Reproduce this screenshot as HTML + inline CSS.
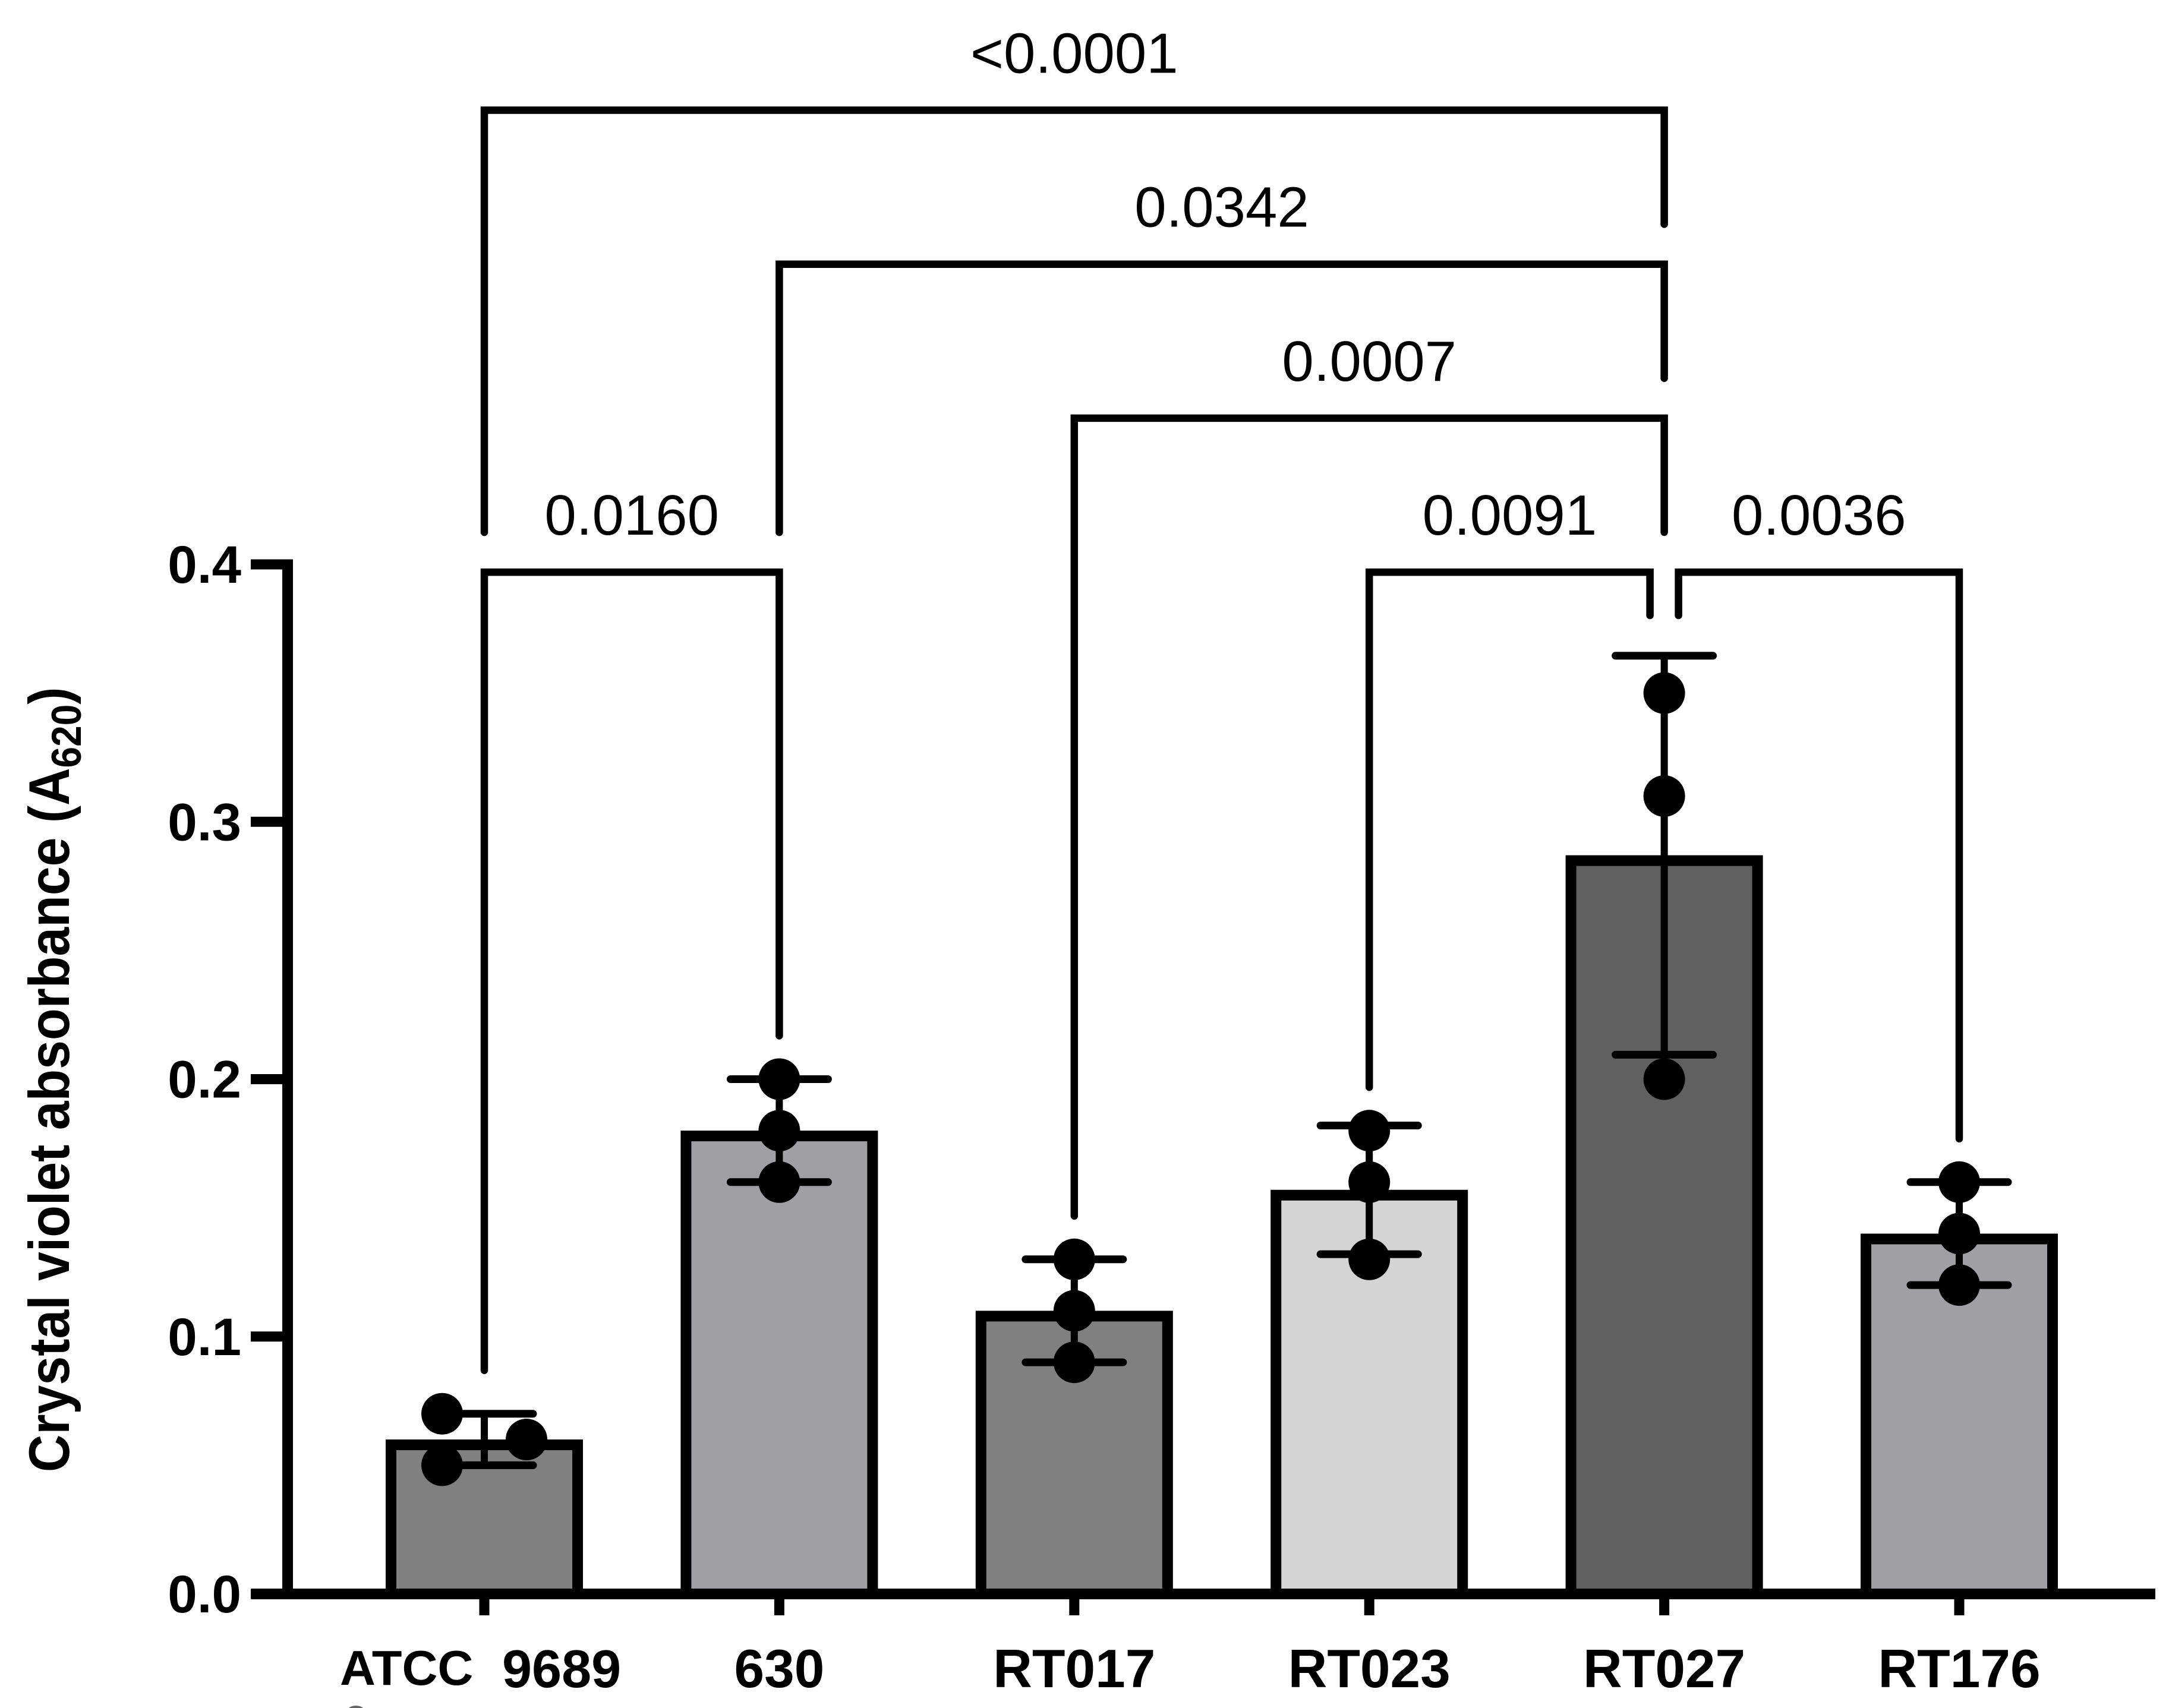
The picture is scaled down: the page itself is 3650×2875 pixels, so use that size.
<!DOCTYPE html>
<html lang="en">
<head>
<meta charset="utf-8">
<title>Crystal violet absorbance by strain</title>
<style>
  html, body { margin: 0; padding: 0; background: #fefefe; }
  svg { display: block; }
  text { font-family: "Liberation Sans", Arial, sans-serif; fill: #000; }
</style>
</head>
<body>
<svg id="chart" xmlns="http://www.w3.org/2000/svg" width="3650" height="2875" viewBox="0 0 3650 2875">
  <rect x="0" y="0" width="3650" height="2875" fill="#fefefe"></rect>
  <text transform="translate(116,2478) rotate(-90) scale(1,1.1)" font-size="87.8" font-weight="700">Crystal violet absorbance (A<tspan font-size="64" dy="18">620</tspan><tspan dy="-18">)</tspan></text>
  <ellipse cx="599" cy="2881" rx="15" ry="10" fill="#666"></ellipse>
</svg>
<script>
const categories = ['ATCC 9689', '630', 'RT017', 'RT023', 'RT027', 'RT176'];
const means = [0.06, 0.18, 0.11, 0.157, 0.287, 0.14];
const sds = [0.01, 0.02, 0.02, 0.025, 0.0775, 0.02];
const replicates = [
  [0.07, 0.06, 0.05],
  [0.20, 0.18, 0.16],
  [0.13, 0.11, 0.09],
  [0.18, 0.16, 0.13],
  [0.35, 0.31, 0.20],
  [0.16, 0.14, 0.12]
];
const barColors = ['#808080', '#a0a0a4', '#808080', '#d4d4d4', '#606060', '#a0a0a4'];
const yTicks = [0, 0.1, 0.2, 0.3, 0.4];
const yTickLabels = ['0.0', '0.1', '0.2', '0.3', '0.4'];
const comparisonFrom = [0, 1, 2, 3, 5, 0];
const comparisonTo = [4, 4, 4, 4, 4, 1];
const comparisonTier = [0, 1, 2, 3, 3, 3];
const comparisonLabels = ['<0.0001', '0.0342', '0.0007', '0.0091', '0.0036', '0.0160'];

const svg = document.getElementById('chart');
const NS = 'http://www.w3.org/2000/svg';

function yScale(v) { return 2683 - 4332.5 * v; }
function xScale(i) { return 815 + 496.4 * i; }
function tierY(t) { return 185.5 + 259.2 * t; }

function make(tag, attrs, parent) {
  const el = document.createElementNS(NS, tag);
  for (const k in attrs) el.setAttribute(k, attrs[k]);
  (parent || svg).appendChild(el);
  return el;
}

const barHalf = 166;
const barStroke = 18;
const baseY = 2683;

// bars
categories.forEach(function (cat, i) {
  const top = yScale(means[i]);
  const bar = make('path', {
    d: 'M' + (xScale(i) - barHalf + barStroke / 2) + ' ' + baseY +
       'V' + (top + barStroke / 2) +
       'H' + (xScale(i) + barHalf - barStroke / 2) +
       'V' + baseY,
    fill: barColors[i],
    stroke: '#000',
    'stroke-width': barStroke
  });
  
  
});

// error bars
categories.forEach(function (cat, i) {
  const hi = yScale(means[i] + sds[i]);
  const lo = yScale(means[i] - sds[i]);
  const cx = xScale(i);
  const g = make('g', { stroke: '#000', fill: 'none' });
  
  
  make('line', { x1: cx, x2: cx, y1: hi, y2: lo, 'stroke-width': 12 }, g);
  make('line', { x1: cx - 82, x2: cx + 82, y1: hi, y2: hi, 'stroke-width': 13, 'stroke-linecap': 'round' }, g);
  make('line', { x1: cx - 82, x2: cx + 82, y1: lo, y2: lo, 'stroke-width': 13, 'stroke-linecap': 'round' }, g);
});

// replicate points: overlapping points are swarmed sideways
const dotR = 35;
const dotSwarm = 71;
replicates.forEach(function (vals, i) {
  const crowded = vals.some(function (v, j) {
    return j > 0 && Math.abs(yScale(v) - yScale(vals[j - 1])) < 2 * dotR;
  });
  vals.forEach(function (v, j) {
    const offset = crowded ? (j % 2 === 0 ? -dotSwarm : dotSwarm) : 0;
    const dot = make('circle', { cx: xScale(i) + offset, cy: yScale(v), r: dotR, fill: '#000' });
    
    
  });
});

// axes
const yAxis = make('rect', { x: 475, y: 941.5, width: 18, height: 2692 - 941.5, fill: '#000' });


const xAxis = make('rect', { x: 423, y: 2674, width: 3627 - 423, height: 18, fill: '#000' });



yTicks.forEach(function (t, i) {
  const y = yScale(t);
  const tick = make('rect', { x: 422, y: y - 8.5, width: 60, height: 17, fill: '#000' });
  
  
  const lab = make('text', { x: 406, y: y + 31, 'text-anchor': 'end', 'font-size': 89, 'font-weight': 700 });
  lab.textContent = yTickLabels[i];
  
  
});

categories.forEach(function (cat, i) {
  const cx = xScale(i);
  const tick = make('rect', { x: cx - 8.5, y: 2685, width: 17, height: 34, fill: '#000' });
  
  
  const words = cat.split(' ');
  if (words.length === 2) {
    const first = make('text', { x: 572, y: 2836, 'font-size': 83, 'font-weight': 700 });
    first.textContent = words[0];
    
    
    const second = make('text', { x: 845, y: 2840, 'font-size': 90, 'font-weight': 700 });
    second.textContent = words[1];
    
    
  } else {
    const lab = make('text', { x: cx, y: 2840, 'text-anchor': 'middle', 'font-size': 91, 'font-weight': 700 });
    lab.textContent = cat;
    
    
  }
});

// significance brackets
const dotGap = 38;
const tierGap = 67;
const tierDrop = 192;
const sharedTargetNudge = 24;
function aboveBar(i) {
  return yScale(Math.max.apply(null, replicates[i])) - dotR - dotGap;
}
comparisonLabels.forEach(function (label, c) {
  const a = comparisonFrom[c];
  const b = comparisonTo[c];
  const t = comparisonTier[c];
  const y = tierY(t);
  const xa = xScale(a);
  let xb = xScale(b);
  let ya, yb;
  if (t === 3 && b === 4) {
    // the two lowest brackets stop short of each other above the tallest bar
    xb = xb + (a < b ? -1 : 1) * sharedTargetNudge;
    ya = aboveBar(a);
    yb = 1036;
  } else if (t === 3) {
    ya = aboveBar(a);
    yb = aboveBar(b);
  } else {
    // left leg of an upper bracket stops above the lowest tier or the bar, right leg above the next tier
    ya = a === 2 ? aboveBar(a) : tierY(3) - tierGap;
    yb = y + tierDrop;
  }
  const line = make('path', {
    d: 'M' + xa + ' ' + ya + 'V' + y + 'H' + xb + 'V' + yb,
    fill: 'none',
    stroke: '#000',
    'stroke-width': 12.5,
    'stroke-linecap': 'round',
    'stroke-linejoin': 'miter'
  });
  
  
  const txt = make('text', { x: (xa + xb) / 2, y: y - 63, 'text-anchor': 'middle', 'font-size': 96 });
  txt.textContent = label;
  
  
});
</script>
</body>
</html>
